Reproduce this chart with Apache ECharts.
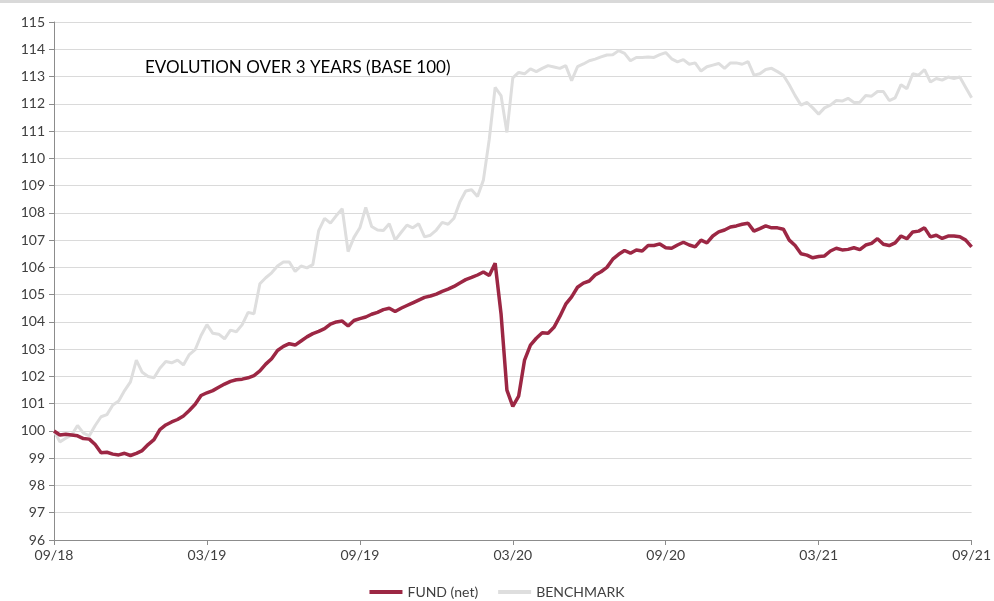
<!DOCTYPE html>
<html>
<head>
<meta charset="utf-8">
<title>Evolution over 3 years</title>
<script src="https://cdn.jsdelivr.net/npm/echarts@6/dist/echarts.min.js"></script>
<style>
  html, body { margin: 0; padding: 0; background: #fff; }
  #chart { width: 994px; height: 601px; }
</style>
</head>
<body>
<div id="chart"></div>
<script>
// weekly dates, 28/09/2018 -> 24/09/2021
var weeks = [
  '2018-09-28', '2018-10-05', '2018-10-12', '2018-10-19', '2018-10-26', '2018-11-02', '2018-11-09', '2018-11-16', '2018-11-23', '2018-11-30',
  '2018-12-07', '2018-12-14', '2018-12-21', '2018-12-28', '2019-01-04', '2019-01-11', '2019-01-18', '2019-01-25', '2019-02-01', '2019-02-08',
  '2019-02-15', '2019-02-22', '2019-03-01', '2019-03-08', '2019-03-15', '2019-03-22', '2019-03-29', '2019-04-05', '2019-04-12', '2019-04-19',
  '2019-04-26', '2019-05-03', '2019-05-10', '2019-05-17', '2019-05-24', '2019-05-31', '2019-06-07', '2019-06-14', '2019-06-21', '2019-06-28',
  '2019-07-05', '2019-07-12', '2019-07-19', '2019-07-26', '2019-08-02', '2019-08-09', '2019-08-16', '2019-08-23', '2019-08-30', '2019-09-06',
  '2019-09-13', '2019-09-20', '2019-09-27', '2019-10-04', '2019-10-11', '2019-10-18', '2019-10-25', '2019-11-01', '2019-11-08', '2019-11-15',
  '2019-11-22', '2019-11-29', '2019-12-06', '2019-12-13', '2019-12-20', '2019-12-27', '2020-01-03', '2020-01-10', '2020-01-17', '2020-01-24',
  '2020-01-31', '2020-02-07', '2020-02-14', '2020-02-21', '2020-02-28', '2020-03-06', '2020-03-13', '2020-03-20', '2020-03-27', '2020-04-03',
  '2020-04-10', '2020-04-17', '2020-04-24', '2020-05-01', '2020-05-08', '2020-05-15', '2020-05-22', '2020-05-29', '2020-06-05', '2020-06-12',
  '2020-06-19', '2020-06-26', '2020-07-03', '2020-07-10', '2020-07-17', '2020-07-24', '2020-07-31', '2020-08-07', '2020-08-14', '2020-08-21',
  '2020-08-28', '2020-09-04', '2020-09-11', '2020-09-18', '2020-09-25', '2020-10-02', '2020-10-09', '2020-10-16', '2020-10-23', '2020-10-30',
  '2020-11-06', '2020-11-13', '2020-11-20', '2020-11-27', '2020-12-04', '2020-12-11', '2020-12-18', '2020-12-25', '2021-01-01', '2021-01-08',
  '2021-01-15', '2021-01-22', '2021-01-29', '2021-02-05', '2021-02-12', '2021-02-19', '2021-02-26', '2021-03-05', '2021-03-12', '2021-03-19',
  '2021-03-26', '2021-04-02', '2021-04-09', '2021-04-16', '2021-04-23', '2021-04-30', '2021-05-07', '2021-05-14', '2021-05-21', '2021-05-28',
  '2021-06-04', '2021-06-11', '2021-06-18', '2021-06-25', '2021-07-02', '2021-07-09', '2021-07-16', '2021-07-23', '2021-07-30', '2021-08-06',
  '2021-08-13', '2021-08-20', '2021-08-27', '2021-09-03', '2021-09-10', '2021-09-17', '2021-09-24'
];

// FUND (net), base 100
var fund = [
  100.0, 99.85, 99.88, 99.85, 99.82, 99.72, 99.7, 99.5, 99.2, 99.22,
  99.15, 99.12, 99.18, 99.1, 99.18, 99.28, 99.5, 99.68, 100.05, 100.22,
  100.33, 100.42, 100.55, 100.75, 100.98, 101.3, 101.4, 101.48, 101.6, 101.72,
  101.82, 101.88, 101.9, 101.95, 102.03, 102.2, 102.45, 102.65, 102.95, 103.1,
  103.2, 103.15, 103.3, 103.45, 103.57, 103.65, 103.75, 103.92, 104.0, 104.03,
  103.85, 104.05, 104.12, 104.18, 104.28, 104.35, 104.45, 104.5, 104.38, 104.5,
  104.6, 104.7, 104.8, 104.9, 104.95, 105.02, 105.12, 105.2, 105.3, 105.43,
  105.55, 105.63, 105.72, 105.83, 105.7, 106.15, 104.3, 101.5, 100.9, 101.28,
  102.6, 103.15, 103.4, 103.6, 103.58, 103.8, 104.2, 104.65, 104.92, 105.27,
  105.42, 105.5, 105.72, 105.84, 106.0, 106.3, 106.48, 106.62, 106.52, 106.64,
  106.6, 106.8, 106.8, 106.86, 106.72, 106.7, 106.82, 106.92, 106.82, 106.75,
  107.0, 106.9, 107.15, 107.3, 107.37, 107.48, 107.52, 107.58, 107.62, 107.33,
  107.42, 107.52, 107.45, 107.45, 107.4, 107.0, 106.8, 106.5, 106.45, 106.35,
  106.4, 106.42, 106.6, 106.7, 106.64, 106.66, 106.72, 106.65, 106.82, 106.88,
  107.05, 106.85, 106.8, 106.9, 107.15, 107.05, 107.3, 107.33, 107.45, 107.12,
  107.18, 107.06, 107.15, 107.15, 107.12, 107.0, 106.75
];

// BENCHMARK, base 100
var benchmark = [
  100.0, 99.6, 99.73, 99.85, 100.2, 99.92, 99.82, 100.2, 100.52, 100.6,
  100.95, 101.1, 101.48, 101.8, 102.6, 102.15, 102.0, 101.95, 102.3, 102.55,
  102.5, 102.6, 102.42, 102.8, 102.98, 103.5, 103.9, 103.58, 103.55, 103.38,
  103.7, 103.64, 103.9, 104.35, 104.3, 105.4, 105.62, 105.8, 106.05, 106.2,
  106.2, 105.85, 106.05, 105.98, 106.1, 107.35, 107.8, 107.62, 107.9, 108.15,
  106.58, 107.1, 107.45, 108.2, 107.5, 107.37, 107.35, 107.6, 107.0, 107.28,
  107.55, 107.45, 107.6, 107.12, 107.18, 107.37, 107.65, 107.58, 107.8, 108.4,
  108.8, 108.85, 108.6, 109.2, 110.7, 112.6, 112.3, 110.95, 112.95, 113.15,
  113.1, 113.28, 113.18, 113.3, 113.4, 113.35, 113.3, 113.4, 112.85, 113.36,
  113.46, 113.58, 113.64, 113.72, 113.79, 113.8, 113.95, 113.85, 113.58, 113.7,
  113.7, 113.72, 113.7, 113.8, 113.88, 113.65, 113.54, 113.62, 113.45, 113.5,
  113.2, 113.36, 113.42, 113.48, 113.3, 113.5, 113.5, 113.45, 113.55, 113.05,
  113.1, 113.26, 113.3, 113.18, 113.05, 112.7, 112.3, 111.95, 112.05, 111.85,
  111.62, 111.85, 111.95, 112.12, 112.1, 112.2, 112.05, 112.06, 112.3, 112.28,
  112.45, 112.45, 112.12, 112.22, 112.7, 112.55, 113.1, 113.05, 113.25, 112.8,
  112.93, 112.87, 112.98, 112.93, 112.98, 112.6, 112.22
];

// one label every 26 weeks
var tickLabels = ['09/18', '03/19', '09/19', '03/20', '09/20', '03/21', '09/21'];

(function () {
  var chart = echarts.init(document.getElementById('chart'));
  var textFont = 'Lato, "Open Sans", sans-serif';
  var option = {
    animation: false,
    backgroundColor: '#fff',
    graphic: [
      {
        type: 'rect',
        left: 0,
        top: 0,
        shape: { width: 994, height: 3 },
        style: { fill: '#d9d9d9' }
      }
    ],
    title: {
      text: 'EVOLUTION OVER 3 YEARS (BASE 100)',
      left: 140,
      top: 54,
      textStyle: {
        fontFamily: textFont,
        fontSize: 17,
        fontWeight: 'normal',
        color: '#000'
      }
    },
    legend: {
      top: 580,
      left: 'center',
      itemWidth: 33,
      itemHeight: 4,
      itemGap: 20,
      icon: 'rect',
      textStyle: {
        fontFamily: textFont,
        fontSize: 14,
        color: '#404040'
      },
      data: ['FUND (net)', 'BENCHMARK']
    },
    grid: {
      left: 54,
      right: 21,
      top: 22,
      bottom: 61
    },
    xAxis: {
      type: 'category',
      boundaryGap: false,
      data: weeks,
      axisLine: {
        lineStyle: { color: '#8c8c8c', width: 1 }
      },
      axisTick: {
        show: true,
        length: 5,
        interval: function (index) { return index % 26 === 0; },
        lineStyle: { color: '#8c8c8c' }
      },
      axisLabel: {
        interval: function (index) { return index % 26 === 0; },
        formatter: function (value, index) {
          return tickLabels[Math.round(index / 26)];
        },
        fontFamily: textFont,
        fontSize: 14,
        color: '#404040',
        margin: 8
      },
      splitLine: { show: false }
    },
    yAxis: {
      type: 'value',
      min: 96,
      max: 115,
      interval: 1,
      axisLine: {
        show: true,
        lineStyle: { color: '#8c8c8c', width: 1 }
      },
      axisTick: {
        show: true,
        length: 5,
        lineStyle: { color: '#8c8c8c' }
      },
      axisLabel: {
        fontFamily: textFont,
        fontSize: 14,
        color: '#404040',
        margin: 9
      },
      splitLine: {
        lineStyle: { color: '#dadada', width: 1.2 }
      }
    },
    series: [
      {
        name: 'FUND (net)',
        type: 'line',
        data: fund,
        showSymbol: false,
        symbol: 'none',
        z: 3,
        color: '#9c2744',
        lineStyle: { width: 3.5, color: '#9c2744' }
      },
      {
        name: 'BENCHMARK',
        type: 'line',
        data: benchmark,
        showSymbol: false,
        symbol: 'none',
        z: 2,
        color: '#dedede',
        lineStyle: { width: 3, color: '#dedede' }
      }
    ]
  };
  chart.setOption(option);
  window.addEventListener('resize', function () {
    chart.resize();
  });
})();
</script>
</body>
</html>
